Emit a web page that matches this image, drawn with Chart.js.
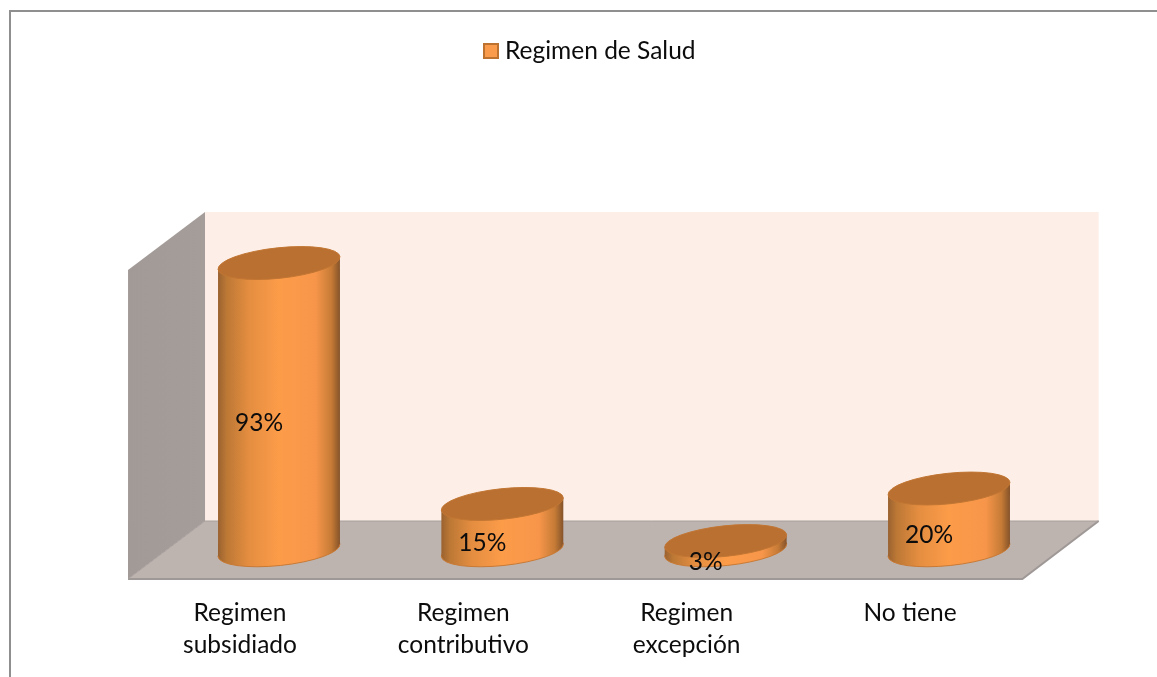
<!DOCTYPE html>
<html>
<head>
<meta charset="utf-8">
<style>html,body{margin:0;padding:0;background:#fff;overflow:hidden}canvas{display:block}</style>
<script src="https://cdn.jsdelivr.net/npm/chart.js@4/dist/chart.umd.min.js"></script>
</head>
<body>
<canvas id="c" width="1157" height="677"></canvas>
<script>
const categories = [["Regimen","subsidiado"],["Regimen","contributivo"],["Regimen","excepción"],"No tiene"];
const values = [93, 15, 3, 20];
const seriesName = "Regimen de Salud";
const FONT = "Lato";
const FS = 24.5;

const swatch = document.createElement('canvas');
swatch.width = 16; swatch.height = 16;
(function(){
  const s = swatch.getContext('2d');
  s.fillStyle = '#BE7230'; s.fillRect(0,0,16,16);
  s.fillStyle = '#F99B4A'; s.fillRect(2,2,12,12);
})();

const scene = {
  id:'scene',
  afterLayout(chart){
    const l = chart.legend;
    const w = l.right - l.left, h = l.bottom - l.top;
    l.left = 479.25; l.right = l.left + w;
    l.top = 28.75; l.bottom = l.top + h;
  },
  beforeDatasetsDraw(chart){
    const c = chart.ctx, a = chart.chartArea;
    const poly = (pts, fill) => {
      c.beginPath(); pts.forEach((p,i)=> i ? c.lineTo(p[0],p[1]) : c.moveTo(p[0],p[1]));
      c.closePath(); c.fillStyle = fill; c.fill();
    };
    c.save();
    // frame
    c.strokeStyle = '#8f8f8f'; c.lineWidth = 2;
    c.beginPath(); c.moveTo(10,677); c.lineTo(10,11); c.lineTo(1157,11); c.stroke();
    // walls, positioned from the chart area
    const backTop = a.top - 29.4, backBot = a.bottom - 29.3, frontBot = a.bottom + 28.7;
    const bl = a.left + 37.7, fl = a.left - 39.3, fr = a.right - 38.3, br = a.right + 38;
    poly([[bl,backTop],[br,backTop],[br,backBot],[bl,backBot]], '#FDEEE7');
    const wg = c.createLinearGradient(fl,0,bl,0);
    wg.addColorStop(0,'#A29A97'); wg.addColorStop(1,'#A59D9A');
    poly([[fl,backTop+58],[bl,backTop],[bl,backBot],[fl,frontBot]], wg);
    poly([[fl,frontBot],[bl,backBot],[br,backBot],[fr,frontBot]], '#BDB3AF');
    c.strokeStyle = '#9E9896'; c.lineWidth = 2;
    c.beginPath(); c.moveTo(fl,frontBot); c.lineTo(fr,frontBot); c.lineTo(br,backBot); c.stroke();
    c.lineWidth = 1; c.strokeStyle = '#A8A09D';
    c.beginPath(); c.moveTo(fl,frontBot); c.lineTo(bl,backBot); c.lineTo(br,backBot); c.stroke();
    c.restore();
  },
  beforeDatasetDraw(chart, args){
    const c = chart.ctx;
    const els = chart.getDatasetMeta(args.index).data;
    const rot = -6 * Math.PI / 180;
    els.forEach(el => {
      const cx = el.x, top = el.y, base = el.base, hw = el.width / 2;
      const a = hw * 1.005, b = hw * 0.25, dy = hw * 0.098;
      const g = c.createLinearGradient(cx-hw,0,cx+hw,0);
      g.addColorStop(0,'#9A6230'); g.addColorStop(0.07,'#BC7835'); g.addColorStop(0.25,'#E48D40');
      g.addColorStop(0.5,'#FC9C49'); g.addColorStop(0.8,'#F7964A'); g.addColorStop(0.93,'#C67B36'); g.addColorStop(1,'#85532A');
      c.save();
      c.fillStyle = g;
      c.beginPath(); c.ellipse(cx,base,a,b,rot,0,Math.PI*2); c.fill();
      c.strokeStyle = '#C97A35'; c.lineWidth = 1; c.stroke();
      c.beginPath();
      c.moveTo(cx-hw,top+dy); c.lineTo(cx-hw,base+dy); c.lineTo(cx+hw,base-dy); c.lineTo(cx+hw,top-dy);
      c.closePath(); c.fill();
      c.beginPath(); c.ellipse(cx,top,a,b,rot,0,Math.PI*2);
      c.fillStyle = '#BA7031'; c.fill();
      c.strokeStyle = '#C27633'; c.stroke();
      c.restore();
    });
    return false;
  },
  afterDatasetsDraw(chart){
    const c = chart.ctx;
    const ds = chart.data.datasets[0];
    c.save();
    c.font = FS + 'px ' + FONT; c.fillStyle = '#0c0c0c';
    c.textAlign = 'center'; c.textBaseline = 'middle';
    chart.getDatasetMeta(0).data.forEach((el,i) => {
      c.fillText(ds.data[i] + '%', el.x - 20, (el.y + el.base) / 2 + 16);
    });
    c.restore();
  }
};

new Chart(document.getElementById('c'), {
  type:'bar',
  data:{
    labels:categories,
    datasets:[{
      label:seriesName,
      data:values,
      backgroundColor:'#F79646',
      borderColor:'#BE7230',
      barPercentage:0.546,
      categoryPercentage:1
    }]
  },
  options:{
    responsive:false,
    animation:false,
    events:[],
    layout:{padding:{top:196.9,left:167.33,right:96.33,bottom:0}},
    plugins:{
      title:{display:false},
      tooltip:{enabled:false},
      legend:{
        display:true, position:'top', align:'start',
        labels:{
          usePointStyle:true, pointStyle:swatch, pointStyleWidth:3.5, boxHeight:16,
          padding:10, color:'#0c0c0c', font:{family:FONT,size:FS}
        }
      }
    },
    scales:{
      y:{display:false,min:0,max:100},
      x:{
        afterFit(axis){ axis.height = 126.7; },
        grid:{display:false,drawTicks:false},
        border:{display:false},
        ticks:{
          color:'#0c0c0c', padding:46.7, labelOffset:-39, maxRotation:0, autoSkip:false,
          font:{family:FONT,size:FS,lineHeight:1.306}
        }
      }
    }
  },
  plugins:[scene]
});
</script>
</body>
</html>
